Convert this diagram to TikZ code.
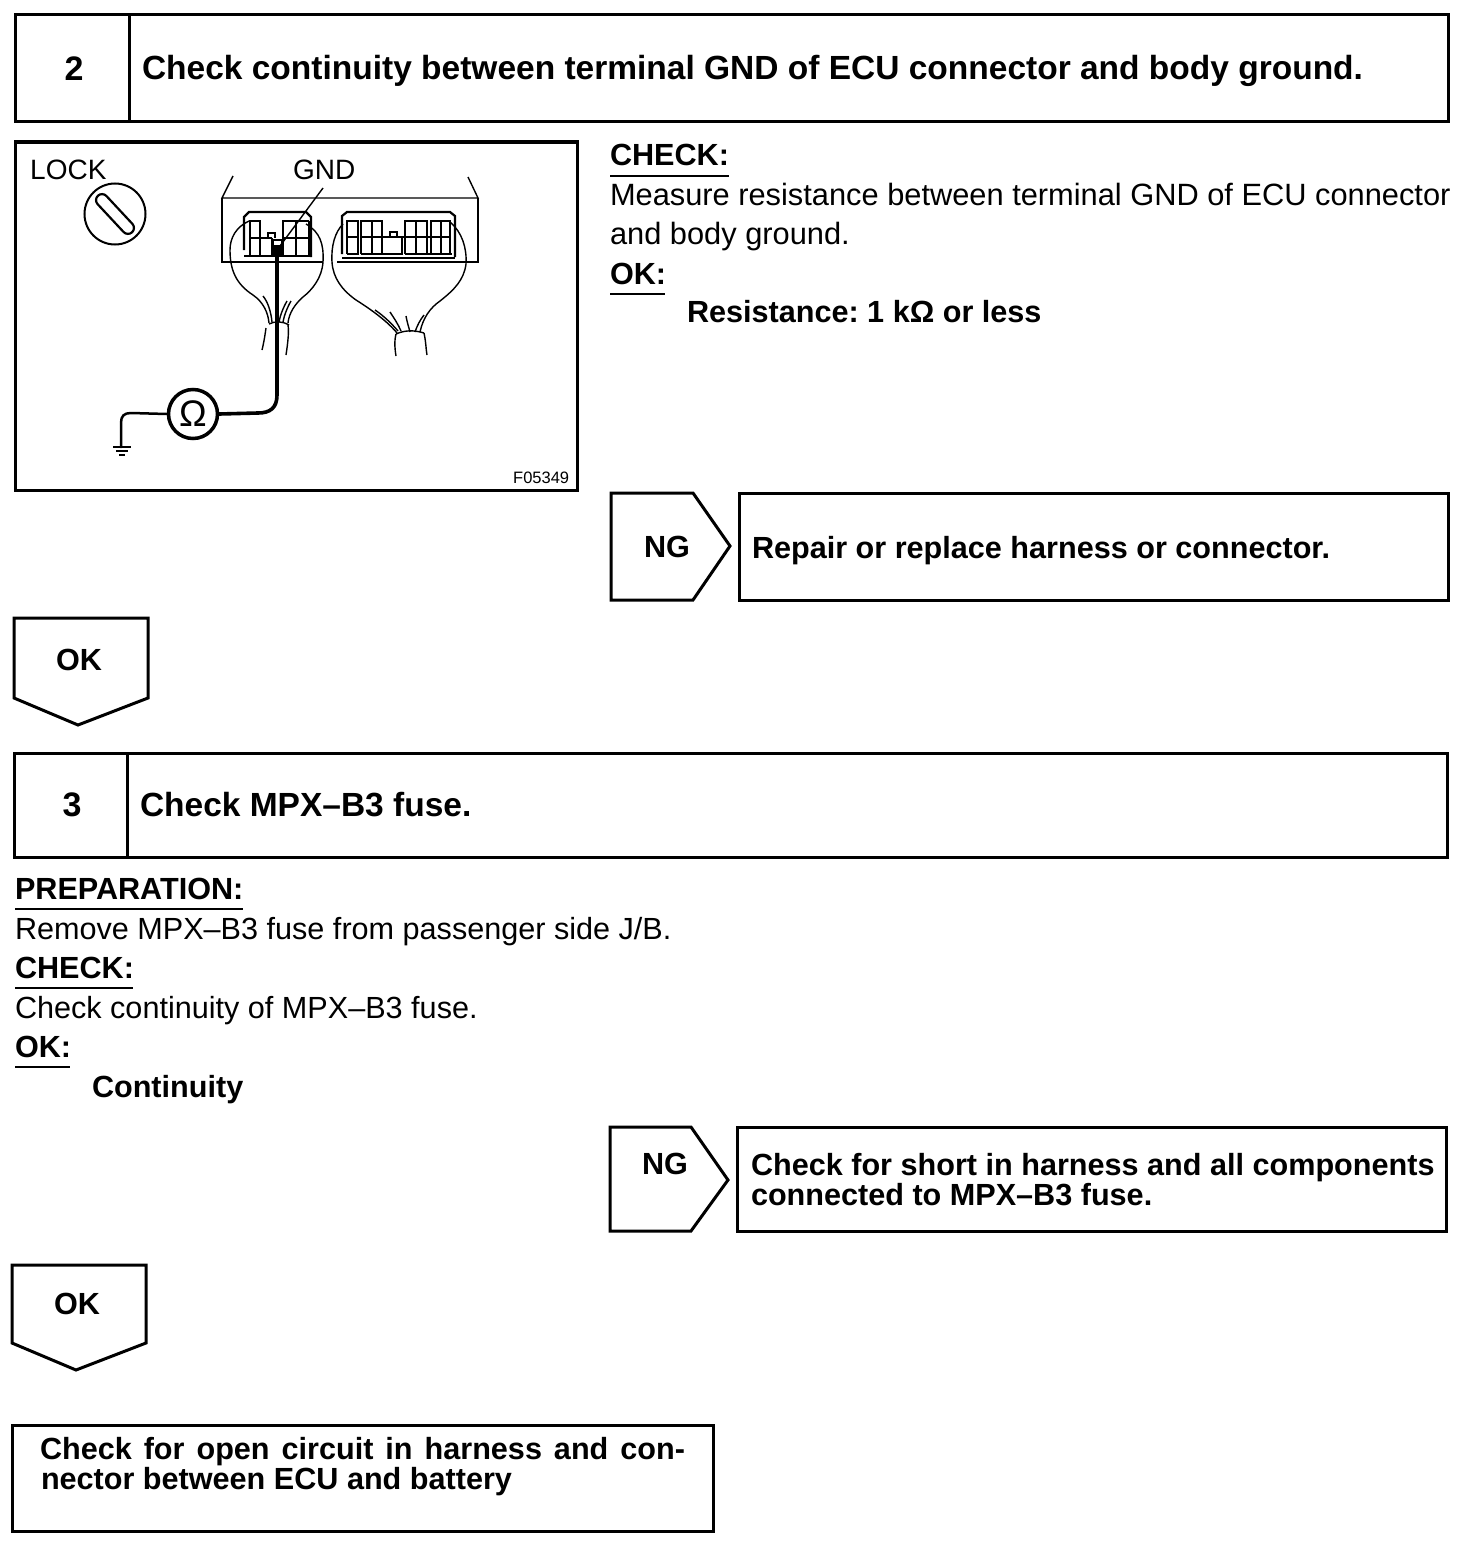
\documentclass[tikz,border=0pt]{standalone}
\usepackage{fontspec}
\setmainfont{Liberation Sans}
\frenchspacing
\tikzset{
  frame/.style={draw=black,line width=3pt,line join=miter},
  thinl/.style={draw=black,line width=1.4pt},
  medl/.style={draw=black,line width=2.2pt},
  wire/.style={draw=black,line width=3.6pt,line cap=round},
  bt/.style={anchor=base west,inner sep=0pt,outer sep=0pt,font=\fontsize{30.6}{30.6}\selectfont\bfseries},
  ht/.style={anchor=base west,inner sep=0pt,outer sep=0pt,font=\fontsize{33.5}{33.5}\selectfont\bfseries},
  rt/.style={anchor=base west,inner sep=0pt,outer sep=0pt,font=\fontsize{30.6}{30.6}\selectfont},
  rtb/.style={anchor=base west,inner sep=0pt,outer sep=0pt,font=\fontsize{30.8}{30.8}\selectfont},
  num/.style={anchor=center,inner sep=0pt,font=\fontsize{30.6}{30.6}\selectfont\bfseries},
  digit/.style={anchor=center,inner sep=0pt,font=\fontsize{34}{34}\selectfont\bfseries},
  lab/.style={anchor=base west,inner sep=0pt,font=\fontsize{28}{28}\selectfont},
  ul/.style={draw=black,line width=1.4pt}
}
\begin{document}
\begin{tikzpicture}[x=1pt,y=-1pt]
\useasboundingbox[fill=white] (0,0) rectangle (1472,1560);
% Step 2 header
\draw[frame] (15,15) rectangle (1448,122);
\draw[frame] (129,15) -- (129,122);
\node[digit] (n2) at (74,69) {2};
\node[ht] (t2) at (142,80) {Check continuity between terminal GND of ECU connector and body ground.};
% figure
\draw[frame] (15,142) rectangle (577,490);
\node[lab] (lock) at (30,179) {LOCK};
\node[lab] (gnd) at (293,179) {GND};
\node[anchor=base west,inner sep=0pt,font=\fontsize{16.5}{16.5}\selectfont] (fig) at (513,483) {F05349};
\node[circle,draw=black,line width=2pt,minimum size=61pt,inner sep=0pt] (key) at (115,214) {};
\draw[medl,rounded corners=6pt,rotate around={-47:(115,214)}] (90,208) rectangle (140,220);
% panel
\draw[thinl] (233,176) -- (222,198) -- (478,198) -- (468,177);
\draw[thinl] (222,198) -- (222,262) -- (233,262);
\draw[thinl] (478,198) -- (478,262) -- (467,262);
\draw[medl] (233,262) -- (323,262) (337,262) -- (467,262);
% left connector
\draw[medl] (244,250) -- (244,217) -- (249,212) -- (306,212) -- (311,217) -- (311,257);
\draw[medl] (244,256) -- (311,256);
\draw[thinl] (250,256) -- (250,221) -- (260,221) -- (260,256);
\draw[thinl] (250,238) -- (272,238);
\draw[thinl] (272,238) -- (272,256);
\draw[thinl] (268,238) -- (268,233) -- (275,233) -- (275,238);
\draw[thinl] (283,256) -- (283,221) -- (309,221);
\draw[thinl] (296,221) -- (296,256) (283,238) -- (309,238) (309,221) -- (309,256);
\draw[medl,fill=black] (272,240) rectangle (283,254);
\fill[white] (274,241) rectangle (281,245);
% right connector
\draw[medl] (342,254) -- (342,216) -- (347,212) -- (450,212) -- (455,216) -- (455,257);
\draw[medl] (342,258) -- (455,258);
\draw[thinl] (347,254) -- (347,221) -- (358,221) -- (358,254) -- (347,254);
\draw[thinl] (347,237) -- (358,237);
\draw[medl] (361,254) -- (361,221) -- (382,221) -- (382,254);
\draw[thinl] (372,221) -- (372,255) (361,237) -- (440,237);
\draw[thinl] (361,254) -- (402,254) -- (402,237);
\draw[thinl] (390,237) -- (390,232) -- (397,232) -- (397,237);
\draw[medl] (405,254) -- (405,221) -- (427,221) -- (427,254);
\draw[thinl] (416,221) -- (416,254) (405,254) -- (452,254);
\draw[medl] (431,254) -- (431,221) -- (450,221) -- (450,254);
\draw[thinl] (441,221) -- (441,254) (431,237) -- (450,237);
% harness left
\draw[thinl] (249,221) .. controls (236,227) and (230,238) .. (230,250) .. controls (230,270) and (236,284) .. (253,295) .. controls (263,302) and (268,312) .. (269,323);
\draw[thinl] (306,224) .. controls (320,232) and (324,244) .. (323,262) .. controls (322,278) and (312,290) .. (303,297) .. controls (295,304) and (289,313) .. (288,323);
\draw[thinl] (263,296) .. controls (268,302) and (271,312) .. (272,322);
\draw[thinl] (291,301) .. controls (287,308) and (284,316) .. (283,322);
\draw[thinl] (287,301) .. controls (283,308) and (280,316) .. (279,322);
\draw[thinl] (269,324) .. controls (275,321) and (282,321) .. (289,325);
\draw[thinl] (266,328) .. controls (265,335) and (264,342) .. (262,350);
\draw[thinl] (288,325) .. controls (289,332) and (288,342) .. (286,355);
% harness right
\draw[thinl] (343,224) .. controls (335,232) and (331,246) .. (332,262) .. controls (333,278) and (342,290) .. (356,300) .. controls (372,310) and (388,322) .. (397,333);
\draw[thinl] (450,222) .. controls (462,232) and (467,248) .. (466,264) .. controls (464,280) and (454,290) .. (440,301) .. controls (430,308) and (423,318) .. (420,332);
\draw[thinl] (375,310) .. controls (384,316) and (392,324) .. (398,331);
\draw[thinl] (390,312) .. controls (394,318) and (398,324) .. (401,331);
\draw[thinl] (406,316) .. controls (407,322) and (409,328) .. (410,332);
\draw[thinl] (424,315) .. controls (420,320) and (417,326) .. (415,332);
\draw[thinl] (396,334) .. controls (405,330) and (414,330) .. (424,333) ;
\draw[thinl] (396,334) .. controls (394,342) and (395,350) .. (396,356);
\draw[thinl] (424,333) .. controls (426,342) and (426,350) .. (427,355);
% probe and meter
\node[circle,draw=black,line width=3.5pt,minimum size=49pt,inner sep=0pt,font=\fontsize{37}{37}\selectfont] (ohm) at (193,414) {Ω};
\coordinate (probe) at (277,247);
\coordinate (earth) at (121,447);
\draw[wire] (probe) -- (277,395) .. controls (277,408) and (270,413) .. (258,413) -- (ohm.east);
\draw[line width=2.5pt,line cap=round] (ohm.west) -- (131,413) .. controls (124,413) and (121,416) .. (121,423) -- (earth);
\draw[line width=1.4pt] (113,447) -- (131,447) (116,451) -- (128,451) (119,455) -- (125,455);
\draw[thinl] (323,188) -- (280,246);
% Step 2 texts
\node[bt] (c2) at (610,165) {CHECK:};
\draw[ul] (610,176) -- (729,176);
\node[rtb] (c2a) at (610,205) {Measure resistance between terminal GND of ECU connector};
\node[rtb] (c2b) at (610,244) {and body ground.};
\node[bt] (ok2) at (610,284) {OK:};
\draw[ul] (610,294) -- (665,294);
\node[bt] (r2) at (687,322) {Resistance: 1 kΩ or less};
% NG 1
\draw[frame] (611,493) -- (693,493) -- (730,546) -- (693,600) -- (611,600) -- cycle;
\node[num] (ng1) at (667,547) {NG};
\draw[frame] (739,493) rectangle (1448,600);
\node[bt] (rp) at (752,558) {Repair or replace harness or connector.};
% OK 1
\draw[frame] (14,618) -- (148,618) -- (148,698) -- (78,725) -- (14,698) -- cycle;
\node[num] (okb1) at (79,660) {OK};
% Step 3 header
\draw[frame] (14,753) rectangle (1447,857);
\draw[frame] (127,753) -- (127,857);
\node[digit] (n3) at (72,805) {3};
\node[ht] (t3) at (140,816) {Check MPX--B3 fuse.};
% Step 3 text
\node[bt] (p3) at (15,899) {PREPARATION:};
\draw[ul] (15,909) -- (243,909);
\node[rt] (p3a) at (15,939) {Remove MPX--B3 fuse from passenger side J/B.};
\node[bt] (c3) at (15,978) {CHECK:};
\draw[ul] (15,988) -- (133,988);
\node[rt] (c3a) at (15,1018) {Check continuity of MPX--B3 fuse.};
\node[bt] (ok3) at (15,1057) {OK:};
\draw[ul] (15,1067) -- (70,1067);
\node[bt] (co3) at (92,1097) {Continuity};
% NG 2
\draw[frame] (610,1127) -- (691,1127) -- (728,1180) -- (691,1231) -- (610,1231) -- cycle;
\node[num] (ng2) at (665,1164) {NG};
\draw[frame] (737,1127) rectangle (1446,1231);
\node[bt] (s1) at (751,1175) {Check for short in harness and all components};
\node[bt] (s2) at (751,1205) {connected to MPX--B3 fuse.};
% OK 2
\draw[frame] (12,1265) -- (146,1265) -- (146,1343) -- (76,1370) -- (12,1343) -- cycle;
\node[num] (okb2) at (77,1304) {OK};
% last
\draw[frame] (12,1425) rectangle (713,1531);
\node[bt] (o1) at (40,1459) {\makebox[645pt][s]{Check for open circuit in harness and con-}};
\node[bt] (o2) at (41,1489) {nector between ECU and battery};
\end{tikzpicture}
\end{document}
